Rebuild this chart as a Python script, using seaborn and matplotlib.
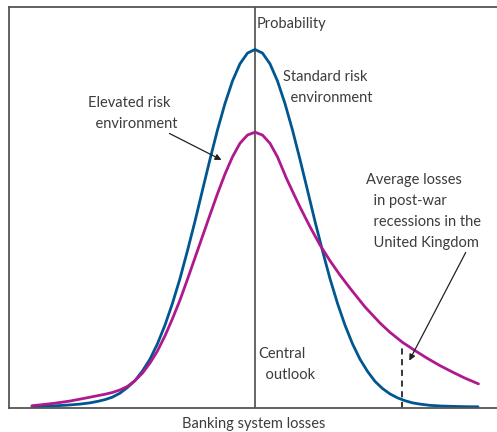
import matplotlib
matplotlib.use('Agg')
import matplotlib.pyplot as plt
import seaborn as sns

# Values (x: losses relative to central outlook, y: probability, blue peak = 1)
standard_x = [-44.6, -42.5, -40, -37.5, -35, -33, -31.5, -30, -28.5, -27, -25.5, -24, -22.5, -21, -19.5, -18,
              -16.5, -15, -13.5, -12, -10.5, -9, -7.5, -6, -4.5, -3, -1.5, 0,
              1.5, 3, 4.5, 6, 7.5, 9, 10.5, 12, 13.5, 15, 16.5, 18, 19.5, 21, 22.5, 24, 25.5, 27, 28.5, 30,
              31.5, 33, 35, 37.5, 40, 42.5, 44.6]
standard_y = [0.002, 0.003, 0.0047, 0.0067, 0.0095, 0.013, 0.017, 0.022, 0.029, 0.040, 0.056, 0.075, 0.102,
              0.135, 0.178, 0.230, 0.291, 0.360, 0.438, 0.520, 0.607, 0.693, 0.775, 0.849, 0.912, 0.960, 0.990,
              1.000,
              0.990, 0.960, 0.912, 0.849, 0.775, 0.693, 0.607, 0.520, 0.438, 0.360, 0.291, 0.230, 0.178, 0.135,
              0.101, 0.073, 0.053, 0.038, 0.027, 0.019, 0.013, 0.0095, 0.006, 0.004, 0.003, 0.0022, 0.002]

elevated_x = [-44.6, -42.5, -40, -37, -34, -31.5, -30, -28.5, -27, -25.5, -24, -22.5, -21, -19.5, -18, -16.5,
              -15, -13.5, -12, -10.5, -9, -7.5, -6, -4.5, -3, -1.5, 0,
              1.5, 3, 4.5, 6.3, 7.7, 9, 11, 13, 15, 17, 19.3, 22, 25, 27, 29.5, 32, 34.5, 37, 39.5, 42, 44.7]
elevated_y = [0.005, 0.008, 0.012, 0.018, 0.026, 0.033, 0.037, 0.042, 0.049, 0.059, 0.075, 0.096, 0.124,
              0.158, 0.200, 0.248, 0.300, 0.358, 0.418, 0.478, 0.538, 0.597, 0.652, 0.700, 0.738, 0.761, 0.769,
              0.761, 0.738, 0.700, 0.640, 0.598, 0.560, 0.505, 0.454, 0.410, 0.370, 0.328, 0.281, 0.236,
              0.210, 0.182, 0.159, 0.137, 0.117, 0.099, 0.082, 0.066]

central_x = 0
average_loss_x = 29.5
average_loss_top = 0.166

blue = '#00578f'
magenta = '#b0188e'
grey = '#3c3c3c'

sns.set_theme(style='white')
plt.rcParams['font.family'] = ['Lato', 'DejaVu Sans']

fig = plt.figure(figsize=(4.97, 4.32), dpi=100)
ax = fig.add_axes([0.019, 0.0567, 0.981, 0.9271])

sns.lineplot(x=standard_x, y=standard_y, sort=False, color=blue, linewidth=2.0, ax=ax)
sns.lineplot(x=elevated_x, y=elevated_y, sort=False, color=magenta, linewidth=2.0, ax=ax)

# central outlook axis and average post-war losses
ax.axvline(central_x, color=grey, linewidth=1.1, zorder=0)
ax.plot([average_loss_x, average_loss_x], [0, average_loss_top], color='black',
        linestyle=(0, (4, 3)), linewidth=1.1)

ax.set_xlim(-49.1, 48.4)
ax.set_ylim(0, 1.1187)
ax.set_xticks([])
ax.set_yticks([])
for side in ['left', 'top', 'bottom']:
    ax.spines[side].set_color('#555555')
    ax.spines[side].set_linewidth(1.3)
ax.spines['right'].set_visible(False)

ax.set_xlabel('Banking system losses', fontsize=10.5, color=grey, labelpad=7)

txt = dict(fontsize=10.5, color=grey, linespacing=1.63)
ax.text(0.4, 1.071, 'Probability', ha='left', va='center', **txt)
ax.text(5.6, 0.894, 'Standard risk\n  environment', ha='left', va='center', **txt)
ax.text(-33.4, 0.821, 'Elevated risk\n  environment', ha='left', va='center', **txt)
ax.text(0.6, 0.120, 'Central\n  outlook', ha='left', va='center', **txt)
ax.text(22.2, 0.547, 'Average losses\n  in post-war\n  recessions in the\n  United Kingdom',
        ha='left', va='center', **txt)

ax.annotate('', xy=(-6.2, 0.688), xytext=(-17.6, 0.769),
            arrowprops=dict(arrowstyle='-|>', color='#222222', lw=0.9, mutation_scale=9))
ax.annotate('', xy=(30.6, 0.124), xytext=(42.4, 0.44),
            arrowprops=dict(arrowstyle='-|>', color='#222222', lw=0.9, mutation_scale=9))

plt.savefig('out.png', dpi=100)
